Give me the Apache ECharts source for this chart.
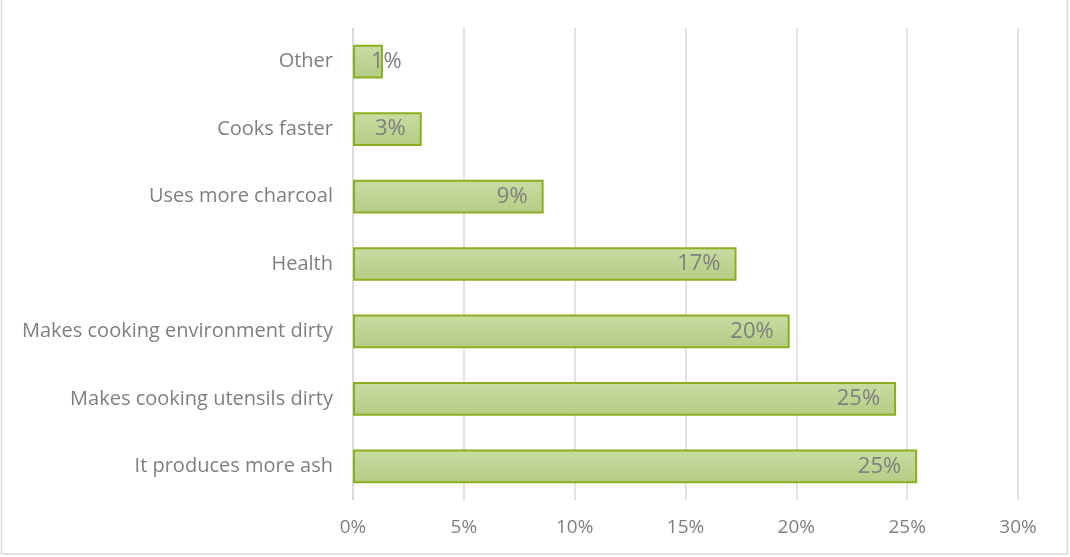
<!DOCTYPE html>
<html>
<head>
<meta charset="utf-8">
<script src="https://cdn.jsdelivr.net/npm/echarts@6/dist/echarts.min.js"></script>
<style>
html,body{margin:0;padding:0;background:#fff;}
#chart{width:1070px;height:557px;}
</style>
</head>
<body>
<div id="chart"></div>
<script>
const categories = ["It produces more ash","Makes cooking utensils dirty","Makes cooking environment dirty","Health","Uses more charcoal","Cooks faster","Other"];
const values = [25.45, 24.5, 19.7, 17.3, 8.6, 3.1, 1.35];
const tickValues = [0,5,10,15,20,25,30];

const FONT = "'Open Sans', sans-serif";
const chart = echarts.init(document.getElementById('chart'));
const seriesData = values.map((v, i) => i === values.length - 1
  ? {value: v, label: {position: 'insideLeft', distance: 18}}
  : v);
chart.setOption({
  backgroundColor: '#fff',
  animation: false,
  graphic: [{
    type: 'rect',
    shape: {x: 1.5, y: -2, width: 1066, height: 556},
    style: {fill: 'none', stroke: '#d9d9d9', lineWidth: 1.5},
    silent: true
  }],
  grid: {left: 353, right: 52, top: 28, bottom: 57, containLabel: false},
  xAxis: {
    type: 'value', min: 0, max: 30, interval: 5,
    axisLine: {show: false}, axisTick: {show: false},
    splitLine: {show: true, lineStyle: {color: '#d9d9d9', width: 1.5}},
    axisLabel: {formatter: v => v + '%', color: '#7f7f7f', fontSize: 19, fontFamily: FONT, margin: 18}
  },
  yAxis: {
    type: 'category', data: categories,
    axisLine: {show: true, lineStyle: {color: '#d9d9d9', width: 1.5}},
    axisTick: {show: false},
    axisLabel: {color: '#7f7f7f', fontSize: 20, fontFamily: FONT, margin: 20}
  },
  series: [{
    type: 'bar', data: seriesData, barWidth: '50%',
    itemStyle: {
      color: new echarts.graphic.LinearGradient(0,0,0,1,[{offset:0,color:'#c8dca2'},{offset:1,color:'#b3cc84'}]),
      borderColor: '#8cae1e', borderWidth: 2
    },
    label: {
      show: true, position: 'insideRight', distance: 16,
      formatter: p => Math.round(p.value) + '%',
      color: '#7f7f7f', fontSize: 22, fontFamily: FONT
    }
  }]
});
</script>
</body>
</html>
